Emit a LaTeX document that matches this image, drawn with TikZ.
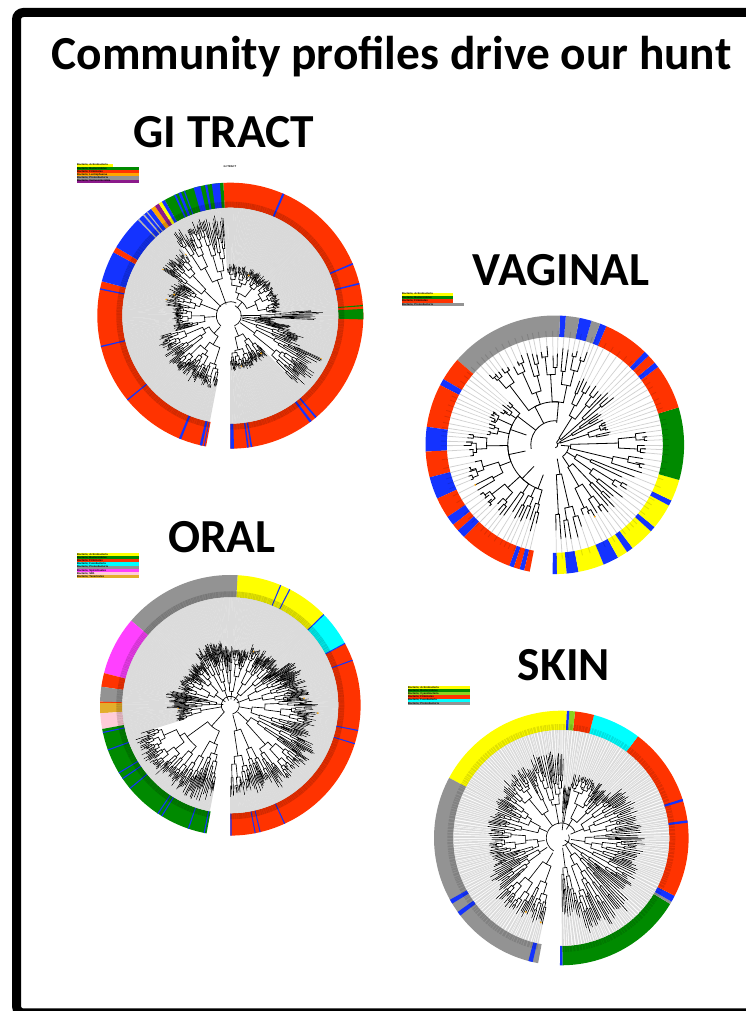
\documentclass[tikz,border=0pt]{standalone}
\usepackage{fontspec}
\setmainfont{Carlito}
\newfontfamily\legendfont{Liberation Sans}
\usetikzlibrary{positioning}
\definecolor{rred}{HTML}{FF3300}
\definecolor{rblue}{HTML}{1433FF}
\definecolor{rgreen}{HTML}{008A00}
\definecolor{rlime}{HTML}{8CD21E}
\definecolor{ryellow}{HTML}{FFFF00}
\definecolor{rgrey}{HTML}{939393}
\definecolor{rcyan}{HTML}{00FFFF}
\definecolor{rmagenta}{HTML}{FF40FF}
\definecolor{rpink}{HTML}{FFCCD9}
\definecolor{rgold}{HTML}{E3AE2B}
\definecolor{rorange}{HTML}{FFA500}
\definecolor{rpurple}{HTML}{8B1A8B}
\tikzset{
  bigtitle/.style={font=\bfseries\fontsize{47.4}{48}\selectfont,inner sep=0pt,anchor=base},
  sitetitle/.style={font=\bfseries\fontsize{47.4}{48}\selectfont,inner sep=0pt,anchor=base},
  legrow/.style={font=\legendfont\bfseries\fontsize{2.65}{2.7}\selectfont,inner sep=0pt,anchor=west,
                 align=left,minimum height=3.2pt,text height=2.1pt,text depth=.5pt},
  twig/.style={line width=.65pt,black},
  frameline/.style={line width=9pt,rounded corners=7pt},
}
% one block of the coloured ring
\newcommand{\ringseg}[3]{\fill[#1] (#2:\ringin) arc[start angle=#2,end angle=#3,radius=\ringin pt]
  -- (#3:\ringout) arc[start angle=#3,end angle=#2,radius=\ringout pt] -- cycle;}
% one arc of the tree
\newcommand{\bow}[3]{\draw[twig] (#1:#3) arc[start angle=#1,end angle=#2,radius=#3 pt];}
% clade: from angle, to angle, base radius, tip radius
\newcommand{\clade}[4]{\begingroup
  \pgfmathsetmacro\mida{(#1+#2)/2}
  \pgfmathsetmacro\wida{abs(#2-#1)}
  \pgfmathparse{\wida<\leafw?1:0}
  \ifnum\pgfmathresult=1
    \pgfmathsetmacro\tipr{#4*(1-\tipjit*rnd)}
    \pgfmathsetmacro\leafa{\mida-\leafk*\wida/2-\leafx}
    \pgfmathsetmacro\leafb{\mida+\leafk*\wida/2+\leafx}
    \pgfmathsetmacro\bandr{\ringin+6}
    \fill[black!\leafgrey] (\leafa:\tipr) -- (\leafa:\ringin) -- (\leafb:\ringin) -- (\leafb:\tipr) -- cycle;
    \fill[black,opacity=.12] (\leafa:\ringin) -- (\leafa:\bandr) -- (\leafb:\bandr) -- (\leafb:\ringin) -- cycle;
    \draw[twig] (\mida:#3) -- (\mida:\tipr);
    \pgfmathparse{rnd<\goldp?1:0}
    \ifnum\pgfmathresult=1 \fill[rorange] (\mida:\tipr) circle (1pt); \fi
  \else
    \pgfmathsetmacro\cuta{#1+(#2-#1)*(.25+.5*rnd)}
    \pgfmathsetmacro\mla{(#1+\cuta)/2}
    \pgfmathsetmacro\mlb{(\cuta+#2)/2}
    \pgfmathsetmacro\rla{#3+(#4-#3)*(\stepa+\stepb*rnd)}
    \pgfmathsetmacro\rlb{#3+(#4-#3)*(\stepa+\stepb*rnd)}
    \draw[twig] (\mla:\rla) -- (\mla:#3) arc[start angle=\mla,end angle=\mlb,radius=#3 pt] -- (\mlb:\rlb);
    \edef\nexta{\noexpand\clade{#1}{\cuta}{\rla}{#4}}
    \edef\nextb{\noexpand\clade{\cuta}{#2}{\rlb}{#4}}
    \nexta\nextb
  \fi\endgroup}
% list of clades: from/to/root radius/base radius/tip radius/share of gold tips
\newcommand{\cladelist}[1]{\foreach \sa/\sb/\rr/\rb/\rt/\gp in {#1}{
    \pgfmathsetmacro\ma{(\sa+\sb)/2}
    \xdef\goldp{\gp}
    \draw[twig] (\ma:\rr) -- (\ma:\rb);
    \clade{\sa}{\sb}{\rb}{\rt}
  }}
\begin{document}
\begin{tikzpicture}[x=1pt,y=1pt]
  \useasboundingbox (0,0) rectangle (746,1011);
  \pgfmathsetseed{11}
  \draw[frameline] (760,998.5) -- (16.5,998.5) -- (16.5,-2) -- (760,-2);
  \node[bigtitle] (head) at (391.5,941) {Community profiles drive our hunt};
  \node[sitetitle] (gititle) at (224,863) {GI TRACT};
  \node[sitetitle] (vagtitle) at (561,725) {VAGINAL};
  \node[sitetitle] (oraltitle) at (222,458) {ORAL};
  \node[sitetitle] (skintitle) at (564,330) {SKIN};
  \node[legrow,anchor=center] (gismall) at (230,844) {GI TRACT};

  % legends
  \foreach \txt/\col/\wid [count=\i] in {Actinobacteria/ryellow/36,Bacteroidetes/rgreen/62,Firmicutes/rred/62,
      Lentisphaerae/rorange/62,Proteobacteria/rgrey/62,Verrucomicrobia/rpurple/62}
    \node[legrow,fill=\col,text width=\wid pt] (gileg\i) at (77,849-\i*3.2) {\mbox{Bacteria; \txt}};
  \foreach \txt/\col/\wid [count=\i] in {Actinobacteria/ryellow/51,Bacteroidetes/rgreen/51,Firmicutes/rred/51,
      Proteobacteria/rgrey/62}
    \node[legrow,fill=\col,text width=\wid pt] (vagleg\i) at (402,720.2-\i*3.4) {\mbox{Bacteria; \txt}};
  \foreach \txt/\col [count=\i] in {Actinobacteria/ryellow,Bacteroidetes/rgreen,Firmicutes/rred,Fusobacteria/rcyan,
      Proteobacteria/rgrey,Spirochaetes/rmagenta,SR1/rpink,Tenericutes/rgold}
    \node[legrow,fill=\col,text width=62pt] (oralleg\i) at (77,459.4-\i*3.12) {\mbox{Bacteria; \txt}};
  \foreach \txt/\col [count=\i] in {Actinobacteria/ryellow,Bacteroidetes/rgreen,Cyanobacteria/rlime,Firmicutes/rred,
      Fusobacteria/rcyan,Proteobacteria/rgrey}
    \node[legrow,fill=\col,text width=62pt] (skinleg\i) at (408,326.8-\i*3.2) {\mbox{Bacteria; \txt}};

  % gi tract
  \begin{scope}[shift={(230.3,695.3)}]
    \def\ringin{108}\def\ringout{133}\def\leafw{1.3}\def\leafk{1}\def\leafx{.08}\def\leafgrey{15}\def\tipjit{.16}
    \def\stepa{.1}\def\stepb{.3}
    \foreach \col/\aa/\ab in {rred/93/-90,rred/259.5/165,rblue/165/151.5,rred/151.5/149,rblue/149/126.5,
        rgrey!70!white/134/133.3,rgrey!70!white/131/130.3,rgrey!70!white/129/128.5,
        rorange/126.5/124.5,rpurple/124.5/122.5,ryellow/122.5/121,rblue/121/119.5,rgreen/119.5/93,
        rblue/115/114.2,rblue/113/111.8,rblue/110.5/110,rblue/106/103,rblue/101/100,rblue/98/94.5,
        rblue/66.9/66,rblue/23.3/22.6,rblue/14.3/13.6,rgreen/4.6/4.1,rgreen/2.9/-1.6,
        rblue/-49.5/-50.3,rblue/-52.3/-53.3,rblue/-80.5/-81.2,rblue/-82/-82.7,rblue/-88.4/-90,
        rblue/258.9/258.5,rblue/257.8/256.7,rblue/248.3/247.3,rblue/219.6/219,rblue/193.7/193.1,rblue/168.7/168.1}
      {\ringseg{\col}{\aa}{\ab}}
    \cladelist{-90/-46/12/22/56/.03,-46/-25/12/30/102/.003,-25/-15/12/28/78/0,-15/-9/12/26/62/0,-9/-3/12/24/46/0,
      -3/4/10/30/93/0,4/94/10/18/52/.01,
      94/126/12/38/102/.08,126/146/13/36/84/.08,146/171/14/32/67/.07,171/196/15/26/59/.02,196/259/15/24/78/.01}
    \bow{-68}{65}{11}\bow{65}{228}{14}
  \end{scope}

  % vaginal
  \begin{scope}[shift={(554.8,566.2)},twig/.append style={line width=.8pt}]
    \def\ringin{108}\def\ringout{129.3}\def\leafw{4.6}\def\leafk{0}\def\leafx{.22}\def\leafgrey{18}\def\tipjit{.14}
    \def\stepa{.22}\def\stepb{.4}
    \foreach \col/\aa/\ab in {rblue/269/271,ryellow/271/275.3,rblue/275.3/280.6,ryellow/280.6/292.2,rblue/292.2/299.3,
        ryellow/299.3/304,rblue/304/307,ryellow/307/318,rblue/318/320.5,ryellow/320.5/332,rblue/332/334.5,
        ryellow/334.5/344.2,rgreen/344.2/376.8,rred/16.8/37,rblue/37/39.5,rred/39.5/43.5,rblue/43.5/46,rred/46/66.5,
        rblue/66.5/69.5,rgrey/69.5/73.5,rblue/73.5/79,rgrey/79/85.1,rblue/85.1/87.7,rgrey/87.7/139,rred/139/149.5,
        rblue/149.5/152.5,rred/152.5/172,rblue/172/183,rred/183/194.6,rblue/194.6/204.6,rred/204.6/213.9,
        rblue/213.9/218.2,rred/218.2/221.5,rblue/221.5/225.5,rred/225.5/249.4,rblue/249.4/251.5,rred/251.5/254.2,
        rblue/254.2/256.3,rred/256.3/258.8}
      {\ringseg{\col}{\aa}{\ab}}
    \cladelist{-90/-70/14/30/98/.03,-70/-43/14/26/86/.03,-43/-20/14/24/86/.03,-20/10/6/16/96/0,10/37/3/6/58/0,37/70/3/8/76/.05,
      70/100/22/43/100/.03,100/135/24/43/98/0,135/150/24/47/66/0,150/172/30/47/73/.05,172/212/30/47/92/.05,
      212/240/30/47/92/.03,240/258/32/47/90/.04}
    \bow{-56}{-5}{14}\bow{85}{118}{43}\bow{143}{249}{47}\bow{85}{190}{24}\bow{-80}{54}{3}
  \end{scope}

  % oral
  \begin{scope}[shift={(230.3,305.7)}]
    \def\ringin{108}\def\ringout{130.3}\def\leafw{1.3}\def\leafk{1}\def\leafx{.08}\def\leafgrey{14}\def\tipjit{.16}
    \def\stepa{.1}\def\stepb{.3}
    \foreach \col/\aa/\ab in {rred/270/388.3,rcyan/28.3/44.2,ryellow/44.2/86.8,rgrey/86.8/139.5,rmagenta/139.5/165.7,
        rred/165.7/171.8,rgrey/171.8/178.4,rred/178.4/178.9,rgold/178.9/183.5,rpink/183.5/190.5,rgreen/190.5/259.5,
        rblue/270/270.6,rblue/280.8/281.3,rblue/283/283.5,rblue/294.4/294.9,rblue/342.6/343.1,rblue/348.6/349.1,
        rblue/20/20.5,rblue/28.1/28.6,rblue/43.9/44.4,rblue/62.6/63.1,rblue/67/67.5,rblue/191.8/192.3,rblue/199.8/200.3,
        rblue/211/211.5,rblue/214/214.5,rblue/219.4/219.9,rblue/236/236.5,rblue/238/238.5,rblue/251/251.5,rblue/258.2/258.7}
      {\ringseg{\col}{\aa}{\ab}}
    \cladelist{-90/-60/10/26/94/.02,-60/-25/10/24/98/.01,-25/5/9/22/88/.01,5/36/7/20/80/.02,36/70/6/14/66/.01,
      70/98/6/14/60/.01,98/124/5/16/66/0,124/166/6/18/56/0,166/183/7/14/66/0,183/197/9/30/56/.04,197/259/9/28/102/.01}
    \bow{-76}{228}{9}
  \end{scope}

  % skin
  \begin{scope}[shift={(561.3,173)}]
    \def\ringin{108}\def\ringout{127.3}\def\leafw{2}\def\leafk{.6}\def\leafx{.04}\def\leafgrey{14}\def\tipjit{.12}
    \def\stepa{.1}\def\stepb{.3}
    \foreach \col/\aa/\ab in {rblue/269.4/270.6,rgreen/270.6/328.8,rgrey/328.8/330,rblue/330/333,rred/333/413,
        rblue/16.8/17.9,rblue/6.9/8,rcyan/53/75.1,rred/75.1/83.8,rlime/83.8/86.4,rblue/86.4/87.6,ryellow/87.6/151.8,
        rgrey/151.8/259.5,rblue/209/211,rblue/215.5/217.5,rblue/255/257}
      {\ringseg{\col}{\aa}{\ab}}
    \cladelist{-90/-75/10/30/82/.02,-75/-42/8/20/100/0,-42/-22/4/12/85/.03,-22/5/10/24/84/.03,5/40/10/24/82/.02,
      40/79/10/22/68/0,79/88/8/16/55/0,88/112/14/34/88/.03,112/140/15/30/82/.01,140/172/16/24/75/0,172/205/17/24/74/.02,
      205/222/17/26/82/.03,222/258/17/30/90/.03}
    \bow{-82}{25}{8}\bow{25}{240}{15}
  \end{scope}
\end{tikzpicture}
\end{document}
